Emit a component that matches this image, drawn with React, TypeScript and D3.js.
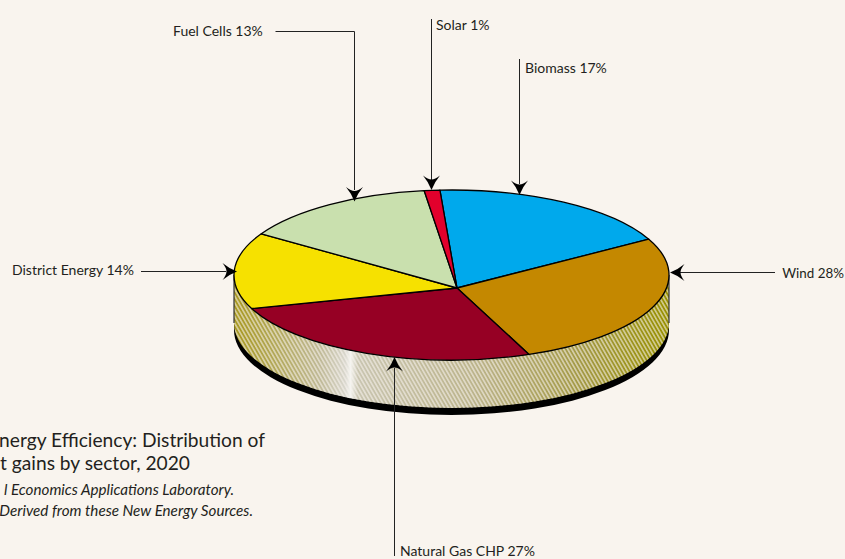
import React from "react";
import * as d3 from "d3";

const W = 845, H = 559;
const categories = ["Biomass", "Wind", "Natural Gas CHP", "District Energy", "Fuel Cells", "Solar"];
const values = [16.9, 27.8, 27.4, 13.8, 13.1, 1.0];
const colors = ["#00a9ec", "#c48800", "#960024", "#f6e100", "#c9e0ae", "#e2002c"];
const titleLines = ["nergy Efficiency: Distribution of", "t gains by sector, 2020"];
const noteLines = ["l Economics Applications Laboratory.", "Derived from these New Energy Sources."];

const cx = 451.5, cy = 275, rx = 217.5, ry = 85, depth = 48, shadow = 7;
const ax = 457, ay = 288;
const start = (-3.9 * Math.PI) / 180;

function rim(a: number): [number, number] {
  const ox = (ax - cx) / rx, oy = (ay - cy) / ry;
  const dx = Math.sin(a), dy = -Math.cos(a);
  const b = ox * dx + oy * dy;
  const c = ox * ox + oy * oy - 1;
  const t = -b + Math.sqrt(b * b - c);
  return [cx + rx * (ox + t * dx), cy + ry * (oy + t * dy)];
}

const arcs = d3.pie<number>().sort(null).startAngle(start).endAngle(start + 2 * Math.PI)(values);

function slice(a0: number, a1: number) {
  const [x0, y0] = rim(a0), [x1, y1] = rim(a1);
  const ct0 = Math.atan2(x0 - cx, -(y0 - cy) * (rx / ry));
  let ct1 = Math.atan2(x1 - cx, -(y1 - cy) * (rx / ry));
  if (ct1 < ct0) ct1 += 2 * Math.PI;
  const large = ct1 - ct0 > Math.PI ? 1 : 0;
  return `M${ax},${ay}L${x0},${y0}A${rx},${ry} 0 ${large} 1 ${x1},${y1}Z`;
}

const lowerBand = (d: number) =>
  `M${cx - rx},${cy}A${rx},${ry} 0 0 0 ${cx + rx},${cy}L${cx + rx},${cy + d}A${rx},${ry} 0 0 1 ${cx - rx},${cy + d}Z`;

const sans = "'Lato','Open Sans',sans-serif";
const ink = "#231f20";
const label = (i: number) => `${categories[i]} ${Math.round(values[i])}%`;

function Arrow({ x, y, dir }: { x: number; y: number; dir: "d" | "u" | "l" | "r" }) {
  const rot = { d: 0, u: 180, r: -90, l: 90 }[dir];
  return (
    <path
      transform={`translate(${x},${y}) rotate(${rot})`}
      d="M0,0Q-3,-8 -8.5,-14.5Q-3.5,-10.5 0,-10.5Q3.5,-10.5 8.5,-14.5Q3,-8 0,0Z"
      fill="#000"
    />
  );
}

const labelStyle = { fontFamily: sans, fontSize: 14, fill: ink } as const;

export default function App() {
  return (
    <svg width={W} height={H} viewBox={`0 0 ${W} ${H}`} style={{ position: "absolute", left: 0, top: 0, background: "#f9f4ee" }}>
      <defs>
        <linearGradient id="wall" x1={cx - rx} x2={cx + rx} y1="0" y2="0" gradientUnits="userSpaceOnUse">
          <stop offset="0" stopColor="#a89820" />
          <stop offset="0.1" stopColor="#b3a95c" />
          <stop offset="0.2" stopColor="#c0ba98" />
          <stop offset="0.255" stopColor="#d8d6cc" />
          <stop offset="0.268" stopColor="#f4f4f0" />
          <stop offset="0.285" stopColor="#c9c5b0" />
          <stop offset="0.55" stopColor="#bcb48c" />
          <stop offset="0.8" stopColor="#a39944" />
          <stop offset="1" stopColor="#989000" />
        </linearGradient>
        <pattern id="hatch" width="3.4" height="3.4" patternUnits="userSpaceOnUse" patternTransform="rotate(-30)">
          <rect width="1.6" height="3.4" fill="#f9f4ee" fillOpacity="0.6" />
        </pattern>
      </defs>

      <path d={lowerBand(depth + shadow)} fill="#000" />
      <path d={lowerBand(depth)} fill="url(#wall)" />
      <path d={lowerBand(depth)} fill="url(#hatch)" />
      <path d={`M${cx - rx},${cy}V${cy + depth}M${cx + rx},${cy}V${cy + depth}`} stroke="#333" strokeWidth={1.2} fill="none" />

      {arcs.map((a, i) => (
        <path key={categories[i]} d={slice(a.startAngle, a.endAngle)} fill={colors[i]} stroke="#000" strokeWidth={1.3} strokeLinejoin="round" />
      ))}

      <g fill="none" stroke="#222" strokeWidth={1}>
        <path d="M275.5,31.5H354.5V190" />
        <path d="M431.5,19V180" />
        <path d="M519.5,59V184" />
        <path d="M141,271.5H226" />
        <path d="M775,272.5H680" />
        <path d="M394.5,556V368" />
      </g>
      <Arrow x={354.5} y={201.5} dir="d" />
      <Arrow x={431.5} y={190} dir="d" />
      <Arrow x={519.5} y={195} dir="d" />
      <Arrow x={237} y={271.5} dir="r" />
      <Arrow x={670} y={272.5} dir="l" />
      <Arrow x={394.5} y={357} dir="u" />

      <text x={173} y={36} {...labelStyle}>{label(4)}</text>
      <text x={436} y={30} {...labelStyle}>{label(5)}</text>
      <text x={525} y={73} {...labelStyle}>{label(0)}</text>
      <text x={12} y={275} {...labelStyle}>{label(3)}</text>
      <text x={844} y={278} textAnchor="end" {...labelStyle} fontSize={13.4}>{label(1)}</text>
      <text x={400} y={556} {...labelStyle}>{label(2)}</text>

      <g fontFamily={sans} fill={ink}>
        <text x={265} y={447} textAnchor="end" fontSize={19.2}>{titleLines[0]}</text>
        <text x={190} y={470} textAnchor="end" fontSize={19.2}>{titleLines[1]}</text>
        <text x={234} y={495} textAnchor="end" fontSize={15.2} fontStyle="italic">{noteLines[0]}</text>
        <text x={253} y={516} textAnchor="end" fontSize={15.2} fontStyle="italic">{noteLines[1]}</text>
      </g>
    </svg>
  );
}
